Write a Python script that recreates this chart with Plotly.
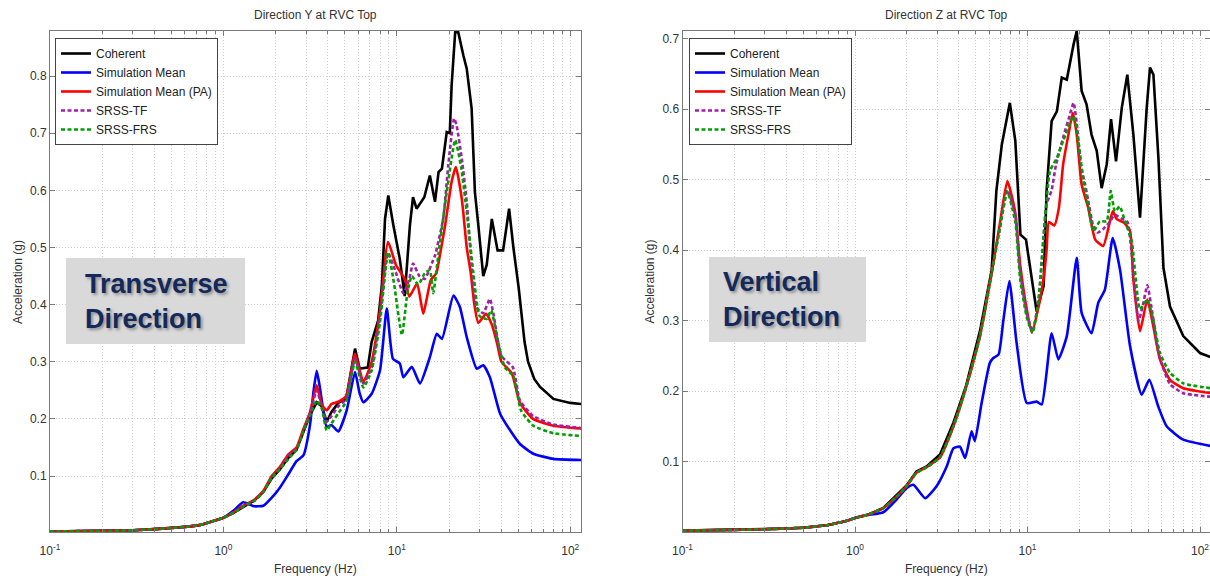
import plotly.graph_objects as go

# ---------------- Left panel: Direction Y at RVC Top ----------------
y_coh_f = [0.1, 0.2, 0.3, 0.4, 0.5, 0.6, 0.73, 0.85, 1.0, 1.15, 1.3, 1.5, 1.7, 1.9, 2.12, 2.37, 2.64, 2.89,
           3.16, 3.45, 3.69, 3.94, 4.2, 4.6, 5.1, 5.74, 6.1, 6.8, 7.16, 7.8, 8.2, 8.55, 8.93, 9.55, 10.4,
           11.1, 11.9, 12.4, 13.0, 14.4, 15.5, 16.6, 17.4, 18.2, 19.4, 20.2, 20.7, 21.7, 22.6, 24.2, 25.3,
           27.0, 28.2, 29.5, 31.5, 33.0, 35.3, 38.1, 41.0, 44.4, 47.0, 50.4, 54.5, 57.1, 62.0, 67.0, 80.0,
           100.0, 116.0]
y_coh_a = [0.003, 0.004, 0.005, 0.007, 0.009, 0.011, 0.014, 0.020, 0.027, 0.036, 0.046, 0.057, 0.072, 0.096,
           0.112, 0.132, 0.146, 0.178, 0.207, 0.229, 0.222, 0.195, 0.212, 0.228, 0.235, 0.323, 0.288, 0.290,
           0.335, 0.372, 0.434, 0.550, 0.591, 0.539, 0.480, 0.415, 0.539, 0.588, 0.568, 0.588, 0.626, 0.580,
           0.632, 0.638, 0.702, 0.700, 0.784, 0.877, 0.877, 0.836, 0.813, 0.743, 0.597, 0.539, 0.450, 0.470,
           0.550, 0.495, 0.495, 0.568, 0.500, 0.430, 0.335, 0.300, 0.270, 0.256, 0.235, 0.228, 0.226]

y_sim_f = [0.1, 0.2, 0.3, 0.4, 0.5, 0.6, 0.73, 0.85, 1.0, 1.15, 1.3, 1.42, 1.5, 1.7, 1.9, 2.12, 2.37, 2.64,
           2.89, 3.16, 3.3, 3.45, 3.6, 3.7, 3.94, 4.21, 4.6, 5.14, 5.74, 6.1, 6.41, 7.16, 8.0, 8.75, 9.5,
           10.4, 10.9, 12.2, 13.6, 15.5, 17.0, 18.2, 21.2, 23.1, 25.3, 28.9, 31.5, 34.4, 39.4, 45.0, 51.3,
           61.2, 80.0, 116.0]
y_sim_a = [0.003, 0.004, 0.005, 0.007, 0.009, 0.011, 0.014, 0.020, 0.027, 0.040, 0.054, 0.050, 0.047, 0.048,
           0.062, 0.080, 0.103, 0.126, 0.136, 0.190, 0.245, 0.284, 0.255, 0.230, 0.186, 0.189, 0.178, 0.215,
           0.282, 0.245, 0.229, 0.244, 0.285, 0.393, 0.305, 0.297, 0.273, 0.291, 0.262, 0.308, 0.349, 0.340,
           0.416, 0.396, 0.343, 0.288, 0.294, 0.273, 0.209, 0.180, 0.156, 0.139, 0.130, 0.128]

y_pa_f = [0.1, 0.2, 0.3, 0.4, 0.5, 0.6, 0.73, 0.85, 1.0, 1.15, 1.3, 1.5, 1.7, 1.9, 2.12, 2.37, 2.64, 2.89,
          3.16, 3.45, 3.69, 3.94, 4.2, 4.6, 5.1, 5.74, 6.41, 7.16, 8.0, 8.9, 9.9, 11.2, 11.8, 13.1, 14.2,
          15.7, 16.9, 17.7, 19.0, 20.7, 21.9, 23.7, 25.3, 26.7, 28.0, 29.5, 32.7, 35.3, 38.0, 40.1, 46.0,
          51.3, 61.0, 80.0, 116.0]
y_pa_a = [0.003, 0.004, 0.005, 0.007, 0.009, 0.011, 0.014, 0.020, 0.027, 0.037, 0.048, 0.058, 0.074, 0.100,
          0.116, 0.138, 0.150, 0.182, 0.212, 0.259, 0.225, 0.215, 0.226, 0.230, 0.240, 0.314, 0.265, 0.300,
          0.390, 0.510, 0.469, 0.443, 0.414, 0.437, 0.384, 0.443, 0.455, 0.486, 0.539, 0.615, 0.641, 0.585,
          0.500, 0.455, 0.400, 0.368, 0.384, 0.365, 0.330, 0.300, 0.280, 0.228, 0.200, 0.188, 0.183]

y_tf_f = [0.1, 0.2, 0.3, 0.4, 0.5, 0.6, 0.73, 0.85, 1.0, 1.15, 1.3, 1.5, 1.7, 1.9, 2.12, 2.37, 2.64, 2.89,
          3.16, 3.45, 3.69, 3.94, 4.2, 4.6, 5.1, 5.74, 6.41, 7.16, 8.0, 8.9, 9.9, 10.9, 11.8, 12.4, 13.5,
          14.5, 15.9, 16.6, 18.5, 19.8, 21.4, 22.1, 23.7, 25.3, 27.0, 28.9, 31.5, 34.4, 36.0, 40.1, 46.7,
          51.3, 61.2, 80.0, 116.0]
y_tf_a = [0.003, 0.004, 0.005, 0.007, 0.009, 0.011, 0.014, 0.020, 0.027, 0.036, 0.047, 0.057, 0.073, 0.098,
          0.114, 0.136, 0.148, 0.180, 0.210, 0.250, 0.222, 0.195, 0.205, 0.222, 0.235, 0.305, 0.262, 0.290,
          0.380, 0.490, 0.455, 0.420, 0.445, 0.472, 0.450, 0.445, 0.472, 0.486, 0.550, 0.644, 0.726, 0.714,
          0.655, 0.580, 0.469, 0.395, 0.385, 0.410, 0.385, 0.310, 0.290, 0.232, 0.205, 0.190, 0.184]

y_frs_f = [0.1, 0.2, 0.3, 0.4, 0.5, 0.6, 0.73, 0.85, 1.0, 1.15, 1.3, 1.5, 1.7, 1.9, 2.12, 2.37, 2.64, 2.89,
           3.16, 3.45, 3.69, 3.94, 4.2, 4.6, 5.1, 5.74, 6.41, 7.16, 8.0, 8.9, 9.6, 10.7, 11.5, 12.2, 13.3,
           14.5, 15.5, 16.2, 17.4, 19.4, 21.7, 23.5, 25.3, 27.6, 30.0, 33.0, 35.0, 38.0, 42.0, 47.0, 52.0,
           61.2, 80.0, 116.0]
y_frs_a = [0.003, 0.004, 0.005, 0.007, 0.009, 0.011, 0.014, 0.020, 0.027, 0.036, 0.047, 0.056, 0.072, 0.097,
           0.112, 0.130, 0.146, 0.178, 0.206, 0.232, 0.218, 0.180, 0.192, 0.210, 0.230, 0.300, 0.255, 0.285,
           0.370, 0.492, 0.440, 0.347, 0.420, 0.450, 0.435, 0.455, 0.460, 0.420, 0.490, 0.597, 0.688, 0.640,
           0.562, 0.457, 0.380, 0.375, 0.390, 0.340, 0.290, 0.275, 0.215, 0.188, 0.175, 0.170]

# ---------------- Right panel: Direction Z at RVC Top ----------------
z_coh_f = [0.1, 0.2, 0.3, 0.4, 0.5, 0.6, 0.7, 0.8, 0.9, 1.0, 1.17, 1.46, 1.74, 1.99, 2.27, 2.6, 3.11, 3.72,
           4.4, 5.3, 6.2, 6.6, 7.1, 7.9, 8.5, 9.1, 9.8, 11.3, 12.4, 12.9, 13.8, 14.8, 15.8, 16.9, 18.5, 19.3,
           20.6, 22.0, 23.5, 25.2, 26.9, 28.8, 30.5, 32.6, 35.2, 37.9, 41.1, 44.9, 49.1, 51.3, 53.7, 57.4,
           61.4, 67.0, 80.0, 100.0, 116.0]
z_coh_a = [0.002, 0.003, 0.004, 0.005, 0.006, 0.008, 0.010, 0.013, 0.016, 0.020, 0.024, 0.034, 0.052, 0.066,
           0.086, 0.093, 0.110, 0.155, 0.207, 0.285, 0.372, 0.484, 0.550, 0.609, 0.555, 0.422, 0.415, 0.313,
           0.349, 0.484, 0.583, 0.597, 0.645, 0.642, 0.692, 0.711, 0.626, 0.607, 0.564, 0.541, 0.488, 0.522,
           0.586, 0.526, 0.602, 0.649, 0.564, 0.446, 0.602, 0.659, 0.649, 0.531, 0.375, 0.320, 0.278, 0.254,
           0.248]

z_sim_f = [0.1, 0.2, 0.3, 0.4, 0.5, 0.6, 0.7, 0.8, 0.9, 1.0, 1.17, 1.46, 1.74, 1.99, 2.18, 2.55, 2.97, 3.4,
           3.72, 4.06, 4.35, 4.74, 4.95, 5.42, 6.05, 6.34, 6.8, 7.25, 7.85, 8.65, 9.9, 11.3, 12.1, 13.8, 15.1,
           16.9, 19.3, 20.6, 23.5, 25.7, 28.1, 31.2, 34.4, 39.3, 45.9, 50.8, 57.3, 64.1, 80.0, 116.0]
z_sim_a = [0.002, 0.003, 0.004, 0.005, 0.006, 0.008, 0.010, 0.013, 0.016, 0.020, 0.024, 0.028, 0.046, 0.062,
           0.067, 0.048, 0.065, 0.093, 0.119, 0.121, 0.105, 0.143, 0.129, 0.183, 0.240, 0.247, 0.252, 0.301,
           0.356, 0.268, 0.183, 0.185, 0.181, 0.282, 0.245, 0.278, 0.389, 0.311, 0.282, 0.325, 0.344, 0.417,
           0.372, 0.264, 0.195, 0.216, 0.178, 0.150, 0.131, 0.122]

z_pa_f = [0.1, 0.2, 0.3, 0.4, 0.5, 0.6, 0.7, 0.8, 0.9, 1.0, 1.17, 1.46, 1.74, 1.99, 2.27, 2.6, 3.11, 3.72,
          4.4, 5.3, 6.2, 6.9, 7.64, 8.47, 9.06, 9.9, 10.6, 11.6, 12.4, 12.9, 13.3, 14.3, 15.2, 16.1, 17.3,
          18.3, 19.3, 20.6, 22.5, 24.7, 27.5, 31.2, 32.9, 36.3, 39.3, 41.0, 44.9, 49.5, 53.6, 58.6, 67.0,
          80.0, 116.0]
z_pa_a = [0.002, 0.003, 0.004, 0.005, 0.006, 0.008, 0.010, 0.013, 0.016, 0.020, 0.024, 0.034, 0.050, 0.065,
          0.084, 0.092, 0.106, 0.150, 0.205, 0.278, 0.368, 0.436, 0.498, 0.455, 0.380, 0.316, 0.283, 0.320,
          0.360, 0.400, 0.440, 0.435, 0.460, 0.522, 0.565, 0.595, 0.564, 0.493, 0.460, 0.415, 0.406, 0.455,
          0.444, 0.439, 0.427, 0.361, 0.285, 0.330, 0.292, 0.245, 0.216, 0.204, 0.197]

z_tf_f = [0.1, 0.2, 0.3, 0.4, 0.5, 0.6, 0.7, 0.8, 0.9, 1.0, 1.17, 1.46, 1.74, 1.99, 2.27, 2.6, 3.11, 3.72,
          4.4, 5.3, 6.2, 6.9, 7.64, 8.5, 9.06, 9.9, 10.7, 11.6, 12.4, 12.9, 13.8, 14.6, 16.1, 17.5, 18.5,
          19.3, 20.4, 21.5, 22.5, 24.0, 25.5, 27.5, 30.0, 32.0, 35.0, 38.0, 40.0, 44.0, 46.5, 49.5, 53.0,
          58.0, 67.0, 80.0, 116.0]
z_tf_a = [0.002, 0.003, 0.004, 0.005, 0.006, 0.008, 0.010, 0.013, 0.016, 0.020, 0.024, 0.034, 0.050, 0.065,
          0.084, 0.092, 0.106, 0.150, 0.205, 0.278, 0.368, 0.430, 0.485, 0.450, 0.370, 0.310, 0.285, 0.330,
          0.420, 0.465, 0.485, 0.520, 0.560, 0.590, 0.609, 0.580, 0.520, 0.495, 0.470, 0.435, 0.425, 0.430,
          0.440, 0.450, 0.445, 0.440, 0.400, 0.300, 0.320, 0.350, 0.310, 0.250, 0.210, 0.197, 0.192]

z_frs_f = [0.1, 0.2, 0.3, 0.4, 0.5, 0.6, 0.7, 0.8, 0.9, 1.0, 1.17, 1.46, 1.74, 1.99, 2.27, 2.6, 3.11, 3.72,
           4.4, 5.3, 6.2, 6.9, 7.64, 8.5, 9.06, 9.9, 10.7, 11.6, 12.4, 13.5, 14.8, 16.1, 18.5, 19.7, 21.1,
           22.5, 24.1, 26.3, 28.8, 30.4, 32.1, 34.3, 36.7, 40.2, 44.9, 49.5, 53.6, 58.6, 67.0, 80.0, 116.0]
z_frs_a = [0.002, 0.003, 0.004, 0.005, 0.006, 0.008, 0.010, 0.013, 0.016, 0.020, 0.024, 0.034, 0.050, 0.065,
           0.084, 0.092, 0.106, 0.150, 0.205, 0.278, 0.368, 0.430, 0.483, 0.440, 0.360, 0.305, 0.283, 0.330,
           0.420, 0.512, 0.531, 0.555, 0.590, 0.555, 0.498, 0.462, 0.427, 0.441, 0.441, 0.484, 0.455, 0.462,
           0.441, 0.413, 0.316, 0.330, 0.301, 0.254, 0.226, 0.211, 0.204]

series_names = ["Coherent", "Simulation Mean", "Simulation Mean (PA)", "SRSS-TF", "SRSS-FRS"]
series_colors = ["#000000", "#0000ff", "#ff0000", "#a020a8", "#009e00"]
series_dash = ["solid", "solid", "solid", "4px,2.5px", "4px,2.5px"]

left_data = [(y_coh_f, y_coh_a), (y_sim_f, y_sim_a), (y_pa_f, y_pa_a), (y_tf_f, y_tf_a), (y_frs_f, y_frs_a)]
right_data = [(z_coh_f, z_coh_a), (z_sim_f, z_sim_a), (z_pa_f, z_pa_a), (z_tf_f, z_tf_a), (z_frs_f, z_frs_a)]

major_ticks = [0.1, 1, 10, 100]
major_text = ["10<sup>-1</sup>", "10<sup>0</sup>", "10<sup>1</sup>", "10<sup>2</sup>"]
minor_ticks = [m * d for d in (0.1, 1, 10) for m in range(2, 10)]
y_left_ticks = [0.1, 0.2, 0.3, 0.4, 0.5, 0.6, 0.7, 0.8]
y_right_ticks = [0.1, 0.2, 0.3, 0.4, 0.5, 0.6, 0.7]

FONT = "Liberation Sans, Arial, sans-serif"
W, H = 1210, 578
ML, MR, MT, MB = 50, 0, 31, 46
PW, PH = W - ML - MR, H - MT - MB


def px2x(px):
    return (px - ML) / PW


def py2y(py):
    return (H - MB - py) / PH


fig = go.Figure()
for i, (f, a) in enumerate(left_data):
    fig.add_trace(go.Scatter(
        x=f, y=a, mode="lines", name=series_names[i], xaxis="x", yaxis="y", legend="legend",
        line=dict(color=series_colors[i], width=2.6, dash=series_dash[i],
                  shape="linear" if i == 0 else "spline", smoothing=0.5)))
for i, (f, a) in enumerate(right_data):
    fig.add_trace(go.Scatter(
        x=f, y=a, mode="lines", name=series_names[i], xaxis="x2", yaxis="y2", legend="legend2",
        line=dict(color=series_colors[i], width=2.6, dash=series_dash[i],
                  shape="linear" if i == 0 else "spline", smoothing=0.5)))

GRIDC = "#cfcfcf"
GRIDDASH = "1px,2px"
grid = dict(showgrid=True, gridcolor=GRIDC, griddash=GRIDDASH, gridwidth=1)
axis_common = dict(showline=True, linecolor="#7a7a7a", linewidth=1, mirror="allticks",
                   ticks="inside", ticklen=5, tickcolor="#7a7a7a", zeroline=False,
                   tickfont=dict(family=FONT, size=12, color="#333333"), **grid)
xaxis_common = dict(type="log", tickmode="array", tickvals=major_ticks, ticktext=major_text,
                    ticklabelstandoff=8,
                    minor=dict(tickmode="array", tickvals=minor_ticks, ticks="inside", ticklen=3,
                               tickcolor="#7a7a7a", showgrid=True, gridcolor=GRIDC, griddash=GRIDDASH,
                               gridwidth=1),
                    **axis_common)

x1_dom = [0, px2x(581)]
x2_dom = [px2x(682.5), 1]

fig.update_layout(
    width=W, height=H,
    margin=dict(l=ML, r=MR, t=MT, b=MB),
    paper_bgcolor="white", plot_bgcolor="white",
    font=dict(family=FONT, size=12, color="#333333"),
    xaxis=dict(domain=x1_dom, range=[-1, 2.062], anchor="y", **xaxis_common),
    yaxis=dict(domain=[0, 1], range=[0.002, 0.879], anchor="x", tickvals=y_left_ticks, **axis_common),
    xaxis2=dict(domain=x2_dom, range=[-1, 2.058], anchor="y2", **xaxis_common),
    yaxis2=dict(domain=[0, 1], range=[0.0, 0.711], anchor="x2", tickvals=y_right_ticks, **axis_common),
    legend=dict(x=px2x(55), y=py2y(38), xanchor="left", yanchor="top", bgcolor="white",
                bordercolor="#444444", borderwidth=1, font=dict(family=FONT, size=12, color="#222222"),
                tracegroupgap=0),
    legend2=dict(x=px2x(689), y=py2y(38), xanchor="left", yanchor="top", bgcolor="white",
                 bordercolor="#444444", borderwidth=1, font=dict(family=FONT, size=12, color="#222222"),
                 tracegroupgap=0),
    showlegend=True,
)

boxes = [
    dict(x0=66, x1=245, y0=258, y1=344, tx=83, text="Transverse<br>Direction"),
    dict(x0=709, x1=866, y0=257, y1=342, tx=721, text="Vertical<br>Direction"),
]
for b in boxes:
    fig.add_shape(type="rect", xref="paper", yref="paper", x0=px2x(b["x0"]), x1=px2x(b["x1"]),
                  y0=py2y(b["y1"]), y1=py2y(b["y0"]), fillcolor="#d9d9d9", line=dict(width=0),
                  layer="above")
    fig.add_annotation(xref="paper", yref="paper", x=px2x(b["tx"]), y=py2y((b["y0"] + b["y1"]) / 2),
                       xanchor="left", yanchor="middle", align="left", showarrow=False,
                       text="<b>" + b["text"] + "</b>",
                       font=dict(family=FONT, size=27, color="#13295c",
                                 shadow="2px 2px 3px rgba(0,0,0,0.35)"))

titles = [("Direction Y at RVC Top", (50 + 581) / 2), ("Direction Z at RVC Top", (682.5 + 1211) / 2)]
for t, cx in titles:
    fig.add_annotation(xref="paper", yref="paper", x=px2x(cx), y=py2y(15), xanchor="center",
                       yanchor="middle", showarrow=False, text=t,
                       font=dict(family=FONT, size=12, color="#333333"))
    fig.add_annotation(xref="paper", yref="paper", x=px2x(cx), y=py2y(569), xanchor="center",
                       yanchor="middle", showarrow=False, text="Frequency (Hz)",
                       font=dict(family=FONT, size=12, color="#333333"))
for lx in (18, 649.5):
    fig.add_annotation(xref="paper", yref="paper", x=px2x(lx), y=py2y(282), xanchor="center",
                       yanchor="middle", showarrow=False, text="Acceleration (g)", textangle=-90,
                       font=dict(family=FONT, size=12, color="#333333"))

fig.write_html("out.html")
